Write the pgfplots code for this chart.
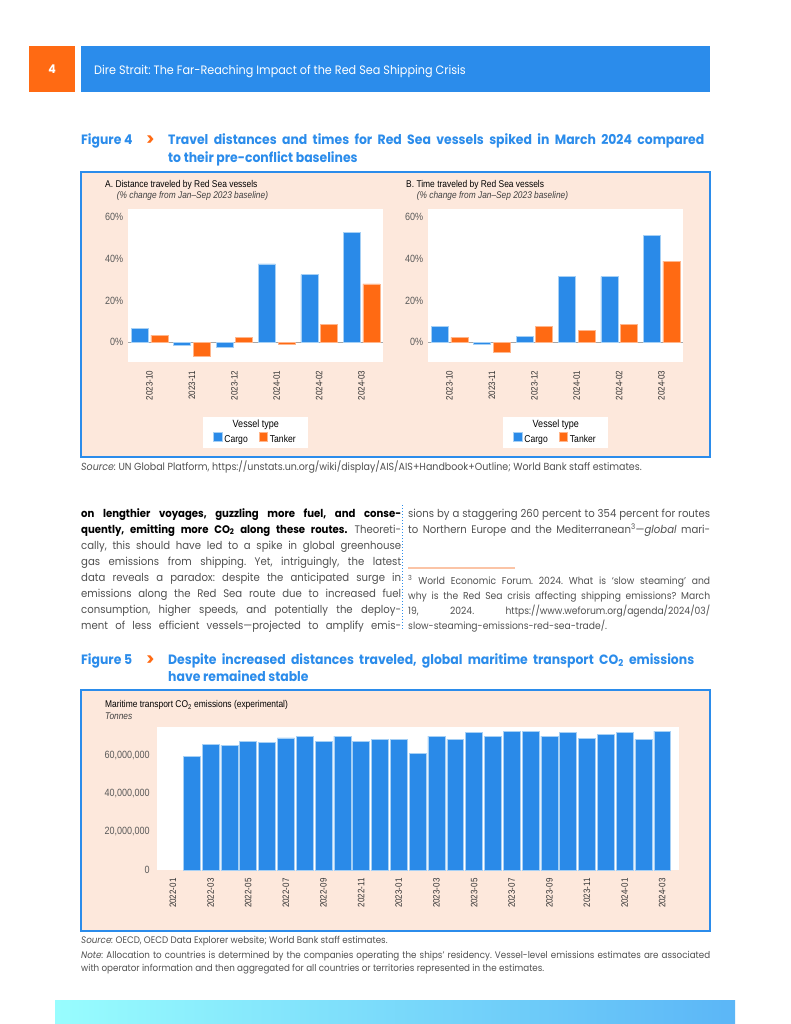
\documentclass[border=0pt]{standalone}
\usepackage{fontspec}
\setmainfont{Poppins}[FakeStretch=0.92]
\newfontfamily\cf{Liberation Sans}[FakeStretch=0.86]
\usepackage{pgfplots}
\pgfplotsset{compat=1.18}
\frenchspacing

\definecolor{wbblue}{HTML}{2B8CEB}
\definecolor{wborange}{HTML}{FF6A13}
\definecolor{peach}{HTML}{FDE8DC}
\definecolor{bodygray}{HTML}{505050}
\definecolor{barblue}{HTML}{2A8AE8}
\definecolor{baredge}{HTML}{A6D0F5}
\definecolor{tankorange}{HTML}{FF6A13}
\definecolor{tankedge}{HTML}{FFB68C}
\definecolor{footrule}{HTML}{FBC4A6}
\definecolor{gradL}{HTML}{98FDFE}
\definecolor{gradR}{HTML}{5BB6F7}

\pgfplotsset{
  redsea/.style={
    scale only axis, width=254.4pt, height=153pt, anchor=south west,
    ybar=2.6pt, bar width=0.40,
    ymin=-9.6, ymax=63.8, xmin=-0.5, xmax=5.5,
    axis background/.style={fill=white},
    axis line style={draw=none},
    major tick length=0pt,
    ytick={0,20,40,60}, yticklabels={0\%,20\%,40\%,60\%},
    xtick={0,...,5},
    xticklabels={2023-10,2023-11,2023-12,2024-01,2024-02,2024-03},
    x tick label style={rotate=90, anchor=east, text=black!80,
      font=\cf\fontsize{9.3}{10}\selectfont},
    y tick label style={text=black!65, font=\cf\fontsize{10.5}{11}\selectfont},
    xticklabel shift=5pt, yticklabel shift=1.5pt,
    extra y ticks={0}, extra y tick labels={},
    extra y tick style={grid=major, major grid style={draw=black!35, line width=0.9pt}},
    legend style={at={(0.5,-0.503)}, anchor=center, draw=none, fill=none,
      legend columns=2, font=\cf\fontsize{10}{11}\selectfont,
      /tikz/every even column/.append style={column sep=9pt}},
    legend image code/.code={\fill[##1] (0pt,-0.8pt) rectangle (8.6pt,7.6pt);},
    clip=false,
  },
  cargo/.style={fill=barblue, draw=baredge, line width=0.5pt},
  tanker/.style={fill=tankorange, draw=tankedge, line width=0.5pt},
}

\begin{document}
\begin{tikzpicture}
\useasboundingbox (0,0) rectangle (791pt,-1024pt);
\fill[white] (0,0) rectangle (791pt,-1024pt);

% page header
\fill[wborange] (29pt,-46pt) rectangle (75pt,-92pt);
\node[white, font=\bfseries\fontsize{12}{14}\selectfont] at (52pt,-69.5pt) {4};
\fill[wbblue] (81pt,-46pt) rectangle (710pt,-92pt);
\node[anchor=base west, white, inner sep=0pt, font=\fontsize{12.2}{14}\selectfont]
  at (94pt,-75pt) {Dire Strait: The Far-Reaching Impact of the Red Sea Shipping Crisis};

% Figure 4 heading
\node[anchor=base west, inner sep=0pt, text=wbblue, font=\bfseries\fontsize{13.5}{18}\selectfont]
  at (81pt,-145pt) {Figure 4};
\node[anchor=base west, inner sep=0pt, text=wborange, font=\bfseries\fontsize{17}{18}\selectfont]
  at (146pt,-146pt) {>};
\node[anchor=base west, inner sep=0pt, text=wbblue, text width=536pt, align=justify,
  font=\bfseries\fontsize{13.5}{18}\selectfont]
  at (168pt,-145pt) {\hyphenpenalty=10000 Travel distances and times for Red Sea vessels spiked in March 2024 compared\linebreak to their pre-conflict baselines};

% Figure 4 panel
\filldraw[fill=peach, draw=wbblue, line width=1.2pt] (81pt,-172pt) rectangle (710pt,-457pt);

\node[anchor=west, inner sep=0pt, font=\cf\fontsize{9.8}{11}\selectfont] at (105pt,-185pt)
  {A. Distance traveled by Red Sea vessels};
\node[anchor=west, inner sep=0pt, text=black!75, font=\cf\itshape\fontsize{9.7}{11}\selectfont] at (116.7pt,-195.5pt)
  {(\% change from Jan–Sep 2023 baseline)};
\node[anchor=west, inner sep=0pt, font=\cf\fontsize{9.8}{11}\selectfont] at (406pt,-185pt)
  {B. Time traveled by Red Sea vessels};
\node[anchor=west, inner sep=0pt, text=black!75, font=\cf\itshape\fontsize{9.7}{11}\selectfont] at (416.7pt,-195.5pt)
  {(\% change from Jan–Sep 2023 baseline)};

% legend boxes
\fill[white] (203.3pt,-416.7pt) rectangle (308.3pt,-448.3pt);
\node[font=\cf\fontsize{10.5}{11}\selectfont] at (255.8pt,-425pt) {Vessel type};
\fill[white] (503.3pt,-416.7pt) rectangle (608.3pt,-448.3pt);
\node[font=\cf\fontsize{10.5}{11}\selectfont] at (555.8pt,-425pt) {Vessel type};

\begin{axis}[redsea, at={(128.3pt,-362.3pt)}]
\addplot[cargo] coordinates {(0,6.7) (1,-1.6) (2,-2.4) (3,37.6) (4,32.5) (5,52.6)};
\addplot[tanker] coordinates {(0,3.4) (1,-6.6) (2,2.2) (3,-0.8) (4,8.6) (5,28.0)};
\legend{Cargo,Tanker}
\end{axis}

\begin{axis}[redsea, at={(428.3pt,-362.3pt)}]
\addplot[cargo] coordinates {(0,7.8) (1,-0.8) (2,3.0) (3,31.5) (4,31.5) (5,51.4)};
\addplot[tanker] coordinates {(0,2.4) (1,-5.0) (2,7.8) (3,5.6) (4,8.6) (5,38.9)};
\legend{Cargo,Tanker}
\end{axis}

% source
\node[anchor=base west, inner sep=0pt, text=bodygray, font=\fontsize{10.3}{11}\selectfont] at (81pt,-470pt)
  {\textit{Source:} UN Global Platform, https://unstats.un.org/wiki/display/AIS/AIS+Handbook+Outline; World Bank staff estimates.};

% body text, left column
\node[anchor=base west, inner sep=0pt, text width=320pt, align=justify, text=bodygray,
  font=\fontsize{11}{16}\selectfont] at (81pt,-517pt)
  {\hyphenpenalty=10000\tolerance=10000
  \textcolor{black}{\textbf{on lengthier voyages, guzzling more fuel, and conse-\linebreak quently, emitting more CO\textsubscript{2} along these routes.}} Theoreti-\linebreak cally, this should have led to a spike in global greenhouse\linebreak gas emissions from shipping. Yet, intriguingly, the latest\linebreak data reveals a paradox: despite the anticipated surge in\linebreak emissions along the Red Sea route due to increased fuel\linebreak consumption, higher speeds, and potentially the deploy-\linebreak ment of less efficient vessels—projected to amplify emis-\linebreak\mbox{}};

\draw[wbblue, dotted, line width=1pt] (402pt,-505pt) -- (402pt,-630pt);

% body text, right column
\node[anchor=base west, inner sep=0pt, text width=302pt, align=justify, text=bodygray,
  font=\fontsize{11}{16}\selectfont] at (408pt,-517pt)
  {\hyphenpenalty=10000\tolerance=10000
  sions by a staggering 260 percent to 354 percent for routes\linebreak to Northern Europe and the Mediterranean\textsuperscript{3}—\textit{global} mari-\linebreak\mbox{}};

\draw[footrule, line width=1.2pt] (408pt,-568pt) -- (515pt,-568pt);
\node[anchor=base west, inner sep=0pt, text width=302pt, align=justify, text=bodygray,
  font=\fontsize{10}{15}\selectfont] at (408pt,-584pt)
  {\hyphenpenalty=10000\tolerance=10000
  \textsuperscript{3} World Economic Forum. 2024. What is ‘slow steaming’ and\linebreak why is the Red Sea crisis affecting shipping emissions? March\linebreak 19, 2024. https://www.weforum.org/agenda/2024/03/\linebreak slow-steaming-emissions-red-sea-trade/.};

% Figure 5 heading
\node[anchor=base west, inner sep=0pt, text=wbblue, font=\bfseries\fontsize{13.5}{18}\selectfont]
  at (81pt,-664pt) {Figure 5};
\node[anchor=base west, inner sep=0pt, text=wborange, font=\bfseries\fontsize{17}{18}\selectfont]
  at (146pt,-665pt) {>};
\node[anchor=base west, inner sep=0pt, text=wbblue, text width=526pt, align=justify,
  font=\bfseries\fontsize{13.5}{17}\selectfont]
  at (168pt,-664pt) {\hyphenpenalty=10000 Despite increased distances traveled, global maritime transport CO\textsubscript{2} emissions\linebreak have remained stable};

% Figure 5 panel
\filldraw[fill=peach, draw=wbblue, line width=1.2pt] (81pt,-690pt) rectangle (710pt,-931pt);
\node[anchor=west, inner sep=0pt, font=\cf\fontsize{9.8}{11}\selectfont] at (105pt,-705pt)
  {Maritime transport CO\textsubscript{2} emissions (experimental)};
\node[anchor=west, inner sep=0pt, text=black!75, font=\cf\itshape\fontsize{9.7}{11}\selectfont] at (105pt,-716pt)
  {Tonnes};

\begin{axis}[
  scale only axis, width=521.7pt, height=143.3pt, anchor=south west,
  at={(157.3pt,-870pt)},
  ybar, bar width=0.9,
  ymin=0, ymax=75000000, xmin=-0.83, xmax=26.89,
  scaled y ticks=false,
  axis background/.style={fill=white},
  axis line style={draw=none},
  major tick length=0pt,
  ytick={0,20000000,40000000,60000000},
  yticklabels={0,{20,000,000},{40,000,000},{60,000,000}},
  xtick={0,2,...,26},
  xticklabels={2022-01,2022-03,2022-05,2022-07,2022-09,2022-11,2023-01,2023-03,2023-05,2023-07,2023-09,2023-11,2024-01,2024-03},
  x tick label style={rotate=90, anchor=east, text=black!80, font=\cf\fontsize{9.3}{10}\selectfont},
  y tick label style={text=black!65, font=\cf\fontsize{10.5}{11}\selectfont},
  xticklabel shift=5pt, yticklabel shift=4pt,
  clip=false,
]
\addplot[fill=barblue, draw=baredge, line width=0.5pt] coordinates {
  (1,59500000) (2,65800000) (3,65200000) (4,67300000) (5,66800000) (6,69200000)
  (7,70100000) (8,67300000) (9,70100000) (10,67300000) (11,68400000) (12,68400000)
  (13,61000000) (14,70100000) (15,68400000) (16,71900000) (17,70100000) (18,72700000)
  (19,72700000) (20,70100000) (21,71900000) (22,68900000) (23,71000000) (24,71900000)
  (25,68400000) (26,72700000)};
\end{axis}

% source and note
\node[anchor=base west, inner sep=0pt, text=bodygray, font=\fontsize{9.5}{11}\selectfont] at (81pt,-943pt)
  {\textit{Source:} OECD, OECD Data Explorer website; World Bank staff estimates.};
\node[anchor=base west, inner sep=0pt, text width=629pt, align=justify, text=bodygray,
  font=\fontsize{9.5}{13.5}\selectfont] at (81pt,-958pt)
  {\hyphenpenalty=10000\tolerance=10000
  \textit{Note:} Allocation to countries is determined by the companies operating the ships’ residency. Vessel-level emissions estimates are associated\linebreak with operator information and then aggregated for all countries or territories represented in the estimates.};

% footer band
\shade[left color=gradL, right color=gradR] (55pt,-1000pt) rectangle (735pt,-1024pt);
\end{tikzpicture}
\end{document}
